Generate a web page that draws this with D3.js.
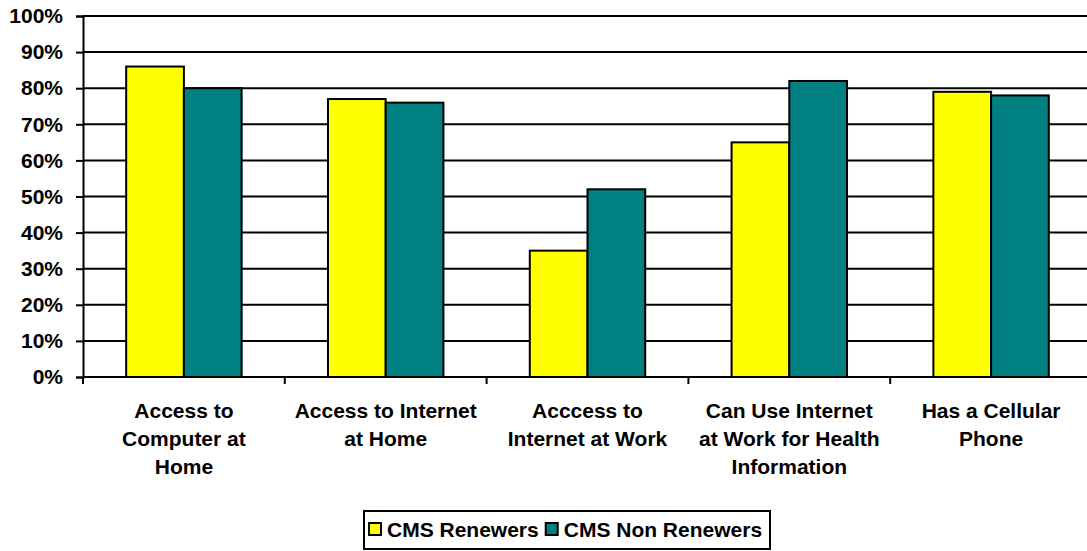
<!DOCTYPE html>
<html lang="en">
<head>
  <meta charset="UTF-8">
  <title>CMS Renewers vs Non Renewers</title>
  <style>
    html, body { margin: 0; background: #fff; }
    text { font-family: Arial, "Liberation Sans", sans-serif; font-weight: bold; fill: #000; }
  </style>
  <script src="https://cdn.jsdelivr.net/npm/d3@7/dist/d3.min.js"></script>
</head>
<body>
  <script>
    const width = 1087
    const height = 551

    // data
    const categories = [
      ['Access to', 'Computer at', 'Home'],
      ['Access to Internet', 'at Home'],
      ['Acccess to', 'Internet at Work'],
      ['Can Use Internet', 'at Work for Health', 'Information'],
      ['Has a Cellular', 'Phone']
    ]
    const seriesNames = ['CMS Renewers', 'CMS Non Renewers']
    const renewers = [86, 77, 35, 65, 79]
    const nonRenewers = [80, 76, 52, 82, 78]
    const yTicks = [0, 10, 20, 30, 40, 50, 60, 70, 80, 90, 100]
    const colors = ['#ffff00', '#008080']

    const margin = { left: 83, top: 16, bottom: 174 }
    const plotRight = 83 + 201.8 * 5

    const svg = d3.select('body').append('svg')
      .attr('width', width)
      .attr('height', height)

    const x = d3.scaleBand()
      .domain(d3.range(categories.length))
      .range([margin.left, plotRight])

    // bars sit in the middle of each band, gap about 1.5 bar widths
    const groupPad = 0.214
    const x1 = d3.scaleBand()
      .domain([0, 1])
      .range([x.bandwidth() * groupPad, x.bandwidth() * (1 - groupPad)])

    const y = d3.scaleLinear()
      .domain([0, 100])
      .range([height - margin.bottom, margin.top])

    // gridlines
    svg.append('g')
      .selectAll('line')
      .data(yTicks.slice(1))
      .join('line')
      .attr('x1', margin.left)
      .attr('x2', plotRight)
      .attr('y1', d => y(d))
      .attr('y2', d => y(d))
      .attr('stroke', '#000')
      .attr('stroke-width', 2)

    // y axis
    const gy = svg.append('g')
      .attr('transform', `translate(${margin.left},0)`)
      .call(d3.axisLeft(y).tickValues(yTicks).tickSize(7).tickPadding(13).tickFormat(d => d + '%'))
    gy.select('.domain').attr('stroke-width', 2)
    gy.selectAll('.tick line').attr('stroke-width', 2)
    gy.selectAll('text').attr('font-size', 21).attr('font-family', null)

    // bars
    const series = [renewers, nonRenewers]
    svg.append('g')
      .selectAll('g')
      .data(series)
      .join('g')
      .attr('fill', (d, i) => colors[i])
      .each(function (vals, s) {
        d3.select(this).selectAll('rect')
          .data(vals)
          .join('rect')
          .attr('x', (d, i) => x(i) + x1(s))
          .attr('y', d => y(d))
          .attr('width', x1.bandwidth())
          .attr('height', d => y(0) - y(d))
          .attr('stroke', '#000')
          .attr('stroke-width', 2)
      })

    // x axis
    const gx = svg.append('g')
      .attr('transform', `translate(0,${y(0)})`)
    gx.append('line')
      .attr('x1', margin.left).attr('x2', plotRight)
      .attr('stroke', '#000').attr('stroke-width', 2)
    gx.selectAll('.tk')
      .data(d3.range(categories.length + 1))
      .join('line')
      .attr('class', 'tk')
      .attr('x1', d => margin.left + d * x.bandwidth())
      .attr('x2', d => margin.left + d * x.bandwidth())
      .attr('y1', 0).attr('y2', 7)
      .attr('stroke', '#000').attr('stroke-width', 2)

    const labels = gx.selectAll('.lbl')
      .data(categories)
      .join('text')
      .attr('class', 'lbl')
      .attr('text-anchor', 'middle')
      .attr('font-size', 21)
      .attr('transform', (d, i) => `translate(${x(i) + x.bandwidth() / 2},0)`)
    labels.selectAll('tspan')
      .data(d => d)
      .join('tspan')
      .attr('x', 0)
      .attr('y', (d, i) => 41 + i * 28)
      .text(d => d)

    // legend
    const legend = svg.append('g')
    legend.append('rect')
      .attr('x', 364).attr('y', 511)
      .attr('width', 406).attr('height', 38)
      .attr('fill', '#fff').attr('stroke', '#000').attr('stroke-width', 2)
    let lx = 369
    seriesNames.forEach((name, i) => {
      legend.append('rect')
        .attr('x', lx).attr('y', 523)
        .attr('width', 12).attr('height', 12)
        .attr('fill', colors[i]).attr('stroke', '#000').attr('stroke-width', 2)
      const t = legend.append('text')
        .attr('x', lx + 18).attr('y', 537)
        .attr('font-size', 21)
        .text(name)
      lx += 18 + t.node().getComputedTextLength() + 7
    })
  </script>
</body>
</html>
